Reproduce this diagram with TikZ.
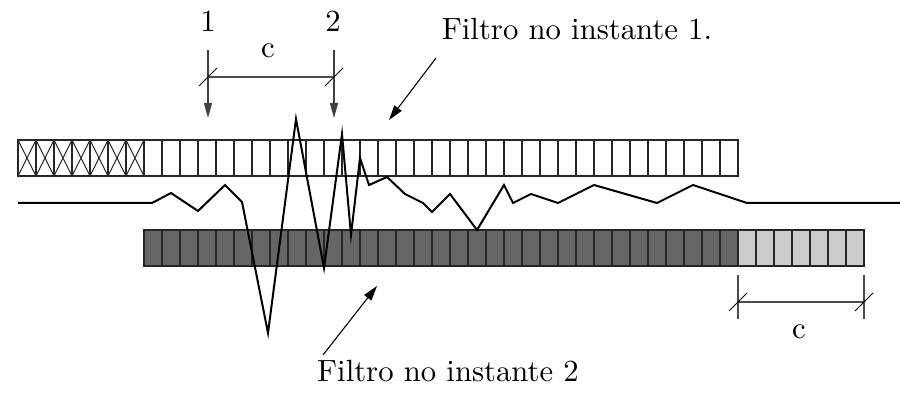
\documentclass[tikz,border=0pt]{standalone}
\usetikzlibrary{arrows.meta}
\definecolor{darkcell}{HTML}{666666}
\definecolor{lightcell}{HTML}{CCCCCC}
\begin{document}
\begin{tikzpicture}[x=1pt,y=-1pt,
  cell/.style={draw=black!85,line width=1.4pt},
  cross/.style={draw=black!85,line width=0.9pt},
  sig/.style={line width=2pt,line join=miter},
  dim/.style={draw=black!70,line width=1.4pt},
  tick/.style={line width=1pt},
  varr/.style={draw=black!75,line width=1.4pt,-{Triangle[length=15pt,width=8pt]}},
  darr/.style={line width=1.1pt,-{Triangle[length=15pt,width=9pt]}},
  lbl/.style={font=\fontsize{10}{12}\selectfont,scale=3.07,anchor=base,inner sep=0pt}]
\useasboundingbox (0,0) rectangle (900,398);
% top filter (instant 1)
\foreach \i in {0,...,39} {
  \draw[cell] (18+18*\i,140) rectangle ++(18,36);
}
\foreach \i in {0,...,6} {
  \draw[cross] (18+18*\i,140) -- ++(18,36) (18+18*\i,176) -- ++(18,-36);
}
% bottom filter (instant 2)
\foreach \i in {0,...,32} {
  \draw[cell,fill=darkcell] (144+18*\i,230) rectangle ++(18,36);
}
\foreach \i in {33,...,39} {
  \draw[cell,fill=lightcell] (144+18*\i,230) rectangle ++(18,36);
}
% signal
\draw[sig] (18,203) -- (152,203) -- (171,193) -- (198,211) -- (225,185) -- (242,202)
  -- (268,333) -- (296,119) -- (324,268) -- (342,134) -- (351,235) -- (360,158)
  -- (369,185) -- (387,177) -- (405,194) -- (423,203) -- (432,212) -- (450,194)
  -- (477,230) -- (504,185) -- (513,203) -- (531,194) -- (558,203) -- (594,185)
  -- (657,203) -- (693,185) -- (747,203) -- (900,203);
% labels
\node[lbl] (l1) at (208,31.7) {1};
\node[lbl] (l2) at (333,31.7) {2};
\node[lbl] (lc1) at (268,58) {c};
\node[lbl] (lc2) at (799,338) {c};
\node[lbl] (f1) at (577,40) {Filtro no instante 1.};
\node[lbl] (f2) at (448,381.7) {Filtro no instante 2};
% top arrows and dimension
\coordinate (a1s) at (208,50); \coordinate (a1e) at (208,118);
\coordinate (a2s) at (334,50); \coordinate (a2e) at (334,118);
\draw[varr] (a1s) -- (a1e);
\draw[varr] (a2s) -- (a2e);
\coordinate (d1a) at (208,77); \coordinate (d1b) at (334,77);
\draw[dim] (d1a) -- (d1b);
\draw[tick] ([shift={(-9,9)}]d1a) -- ([shift={(9,-9)}]d1a);
\draw[tick] ([shift={(-9,9)}]d1b) -- ([shift={(9,-9)}]d1b);
% right dimension
\coordinate (r1t) at (738,275); \coordinate (r1b) at (738,319);
\coordinate (r2t) at (864,275); \coordinate (r2b) at (864,319);
\coordinate (d2a) at (738,302); \coordinate (d2b) at (864,302);
\draw[dim] (r1t) -- (r1b);
\draw[dim] (r2t) -- (r2b);
\draw[dim] (d2a) -- (d2b);
\draw[tick] ([shift={(-9,9)}]d2a) -- ([shift={(9,-9)}]d2a);
\draw[tick] ([shift={(-9,9)}]d2b) -- ([shift={(9,-9)}]d2b);
% pointer arrows
\coordinate (p1s) at (436,58); \coordinate (p1e) at (389,120);
\coordinate (p2s) at (323,355); \coordinate (p2e) at (377,286);
\draw[darr] (p1s) -- (p1e);
\draw[darr] (p2s) -- (p2e);
\end{tikzpicture}
\end{document}
